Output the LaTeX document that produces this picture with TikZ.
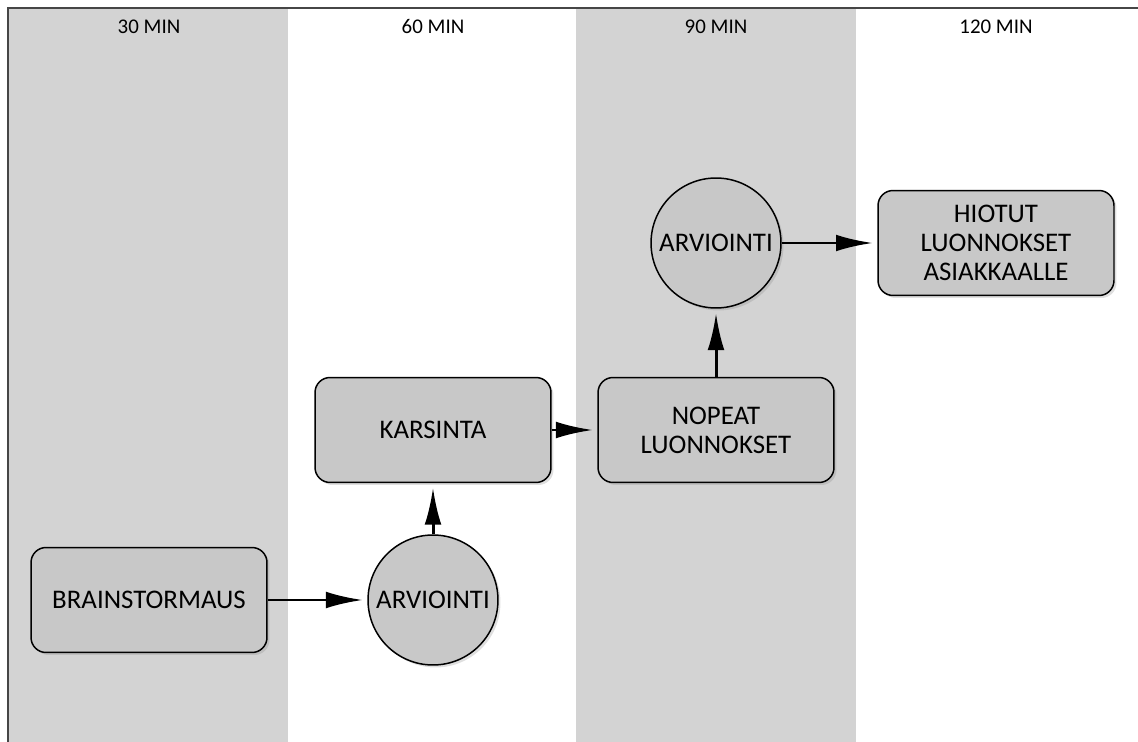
\documentclass[tikz,border=0pt]{standalone}
\usepackage{fontspec}
\setmainfont{Carlito}
\usetikzlibrary{arrows.meta,shadows}

\definecolor{lanegray}{RGB}{211,211,211}
\definecolor{boxgray}{RGB}{200,200,200}
\definecolor{framegray}{RGB}{70,70,70}

\tikzset{
  stepbox/.style={draw=black, line width=0.85pt, fill=boxgray, rounded corners=0.3cm,
    minimum width=4.72cm, minimum height=2.1cm, align=center,
    font=\fontsize{15.3}{16.4}\selectfont,
    drop shadow={opacity=0.25, shadow xshift=0.05cm, shadow yshift=-0.05cm}},
  checkcircle/.style={draw=black, line width=0.85pt, fill=boxgray, circle,
    minimum size=2.6cm, inner sep=0pt, font=\fontsize{15.3}{16.4}\selectfont,
    drop shadow={opacity=0.25, shadow xshift=0.05cm, shadow yshift=-0.05cm}},
  flow/.style={line width=1.7pt, -{Latex[length=21pt,width=9.5pt]}, shorten >=2.5pt},
  lanehead/.style={font=\fontsize{11.9}{14}\selectfont}
}

\begin{document}
\begin{tikzpicture}[x=0.02cm, y=-0.02cm]
% Picture size in pixels of the original
\useasboundingbox (0,0) rectangle (1138,742);

% Time lanes
\fill[lanegray] (9,9) rectangle (288,742);
\fill[lanegray] (576,9) rectangle (856,742);
\draw[framegray, line width=0.9pt] (8,742) -- (8,8) -- (1138,8);

\node[lanehead] (h30) at (149,27) {30 MIN};
\node[lanehead] (h60) at (433,27) {60 MIN};
\node[lanehead] (h90) at (716,27) {90 MIN};
\node[lanehead] (h120) at (996,27) {120 MIN};

% Steps
\node[stepbox] (brain) at (149,600) {BRAINSTORMAUS};
\node[checkcircle] (arv1) at (433,600) {ARVIOINTI};
\node[stepbox] (karsinta) at (433,430) {KARSINTA};
\node[stepbox] (nopeat) at (716,430) {NOPEAT\\LUONNOKSET};
\node[checkcircle] (arv2) at (716,243) {ARVIOINTI};
\node[stepbox] (hiotut) at (996,243) {HIOTUT\\LUONNOKSET\\ASIAKKAALLE};

% Flow
\draw[flow] (brain) -- (arv1);
\draw[flow] (arv1) -- (karsinta);
\draw[flow] (karsinta) -- (nopeat);
\draw[flow] (nopeat) -- (arv2);
\draw[flow] (arv2) -- (hiotut);
\end{tikzpicture}
\end{document}
